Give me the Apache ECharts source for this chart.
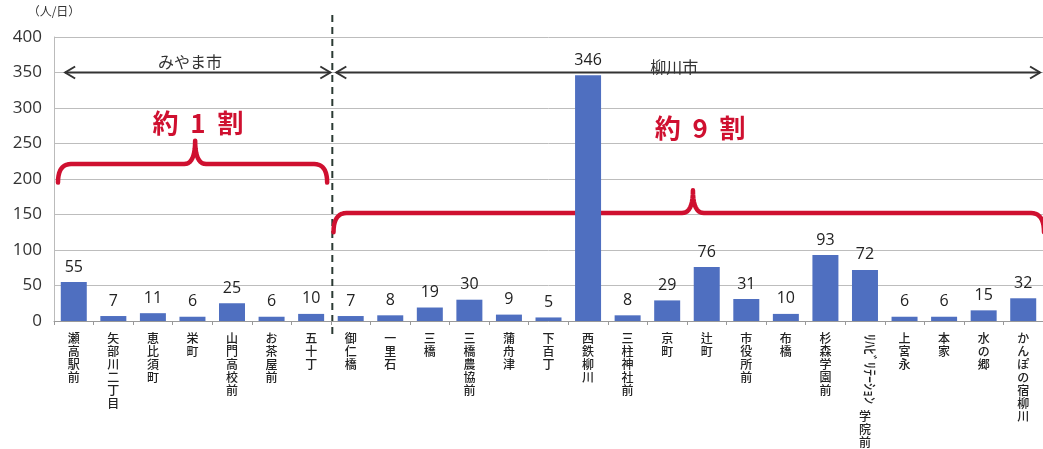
<!DOCTYPE html>
<html>
<head>
<meta charset="utf-8">
<script src="https://cdn.jsdelivr.net/npm/echarts@6/dist/echarts.min.js"></script>
<style>
  html, body { margin: 0; padding: 0; background: #fff; }
  #barChart { width: 1043px; height: 449px; }
</style>
</head>
<body>
<div id="barChart"></div>
<script>
  // 停留所（バス停）
  const categories = ['瀬高駅前', '矢部川二丁目', '恵比須町', '栄町', '山門高校前', 'お茶屋前', '五十丁',
    '御仁橋', '一里石', '三橋', '三橋農協前', '蒲舟津', '下百丁', '西鉄柳川', '三柱神社前', '京町', '辻町',
    '市役所前', '布橋', '杉森学園前', 'ﾘﾊﾋﾞﾘﾃｰｼｮﾝ学院前', '上宮永', '本家', '水の郷', 'かんぽの宿柳川']
  // 利用者数（人/日）
  const values = [55, 7, 11, 6, 25, 6, 10, 7, 8, 19, 30, 9, 5, 346, 8, 29, 76, 31, 10, 93, 72, 6, 6, 15, 32]
  const yMin = 0
  const yMax = 400
  const yStep = 50
  const miyamaCount = 7 // みやま市の停留所数（先頭から）

  const cjk = '"Noto Sans CJK JP", "Noto Sans", sans-serif'
  const gridLeft = 54
  const gridWidth = 994
  const red = '#cf1030'
  const dark = '#333'

  let chart = echarts.init(document.getElementById('barChart'))

  let option = {
    animation: false,
    grid: { left: gridLeft, width: gridWidth, top: 37, bottom: 123 },
    xAxis: {
      type: 'category',
      data: categories,
      axisLine: { lineStyle: { color: '#999' } },
      axisTick: { show: true, length: 4, lineStyle: { color: '#999' } },
      axisLabel: {
        interval: 0,
        margin: 11,
        fontFamily: cjk,
        fontSize: 12,
        fontWeight: 500,
        lineHeight: 13,
        color: '#222',
        formatter: function (v) {
          // 半角カナ部分は横倒しで別描画
          if (v.indexOf('ﾘﾊﾋﾞ') === 0) {
            return '\n\n\n\n\n\n学\n院\n前'
          }
          return v.split('').join('\n')
        }
      }
    },
    yAxis: {
      type: 'value',
      min: yMin,
      max: yMax,
      interval: yStep,
      name: '（人/日）',
      nameGap: 20,
      nameTextStyle: { fontFamily: cjk, fontSize: 12, color: dark },
      axisLine: { show: true, lineStyle: { color: '#bbb' } },
      axisTick: { show: false },
      axisLabel: { fontFamily: '"Open Sans", sans-serif', fontSize: 17, color: dark, margin: 12 },
      splitLine: { lineStyle: { color: '#bdbdbd' } }
    },
    series: [{
      type: 'bar',
      data: values,
      barWidth: 26,
      itemStyle: { color: '#4f6fc0' },
      label: {
        show: true,
        position: 'top',
        distance: 7,
        fontFamily: '"Open Sans", sans-serif',
        fontSize: 16,
        color: '#222'
      }
    }]
  }
  chart.setOption(option)

  // 注記（区切り線・矢印・中括弧）をデータ座標から配置
  const bw = gridWidth / categories.length
  function px(band, v) {
    return [gridLeft + band * bw, chart.convertToPixel({ yAxisIndex: 0 }, v)]
  }
  function quad(pts, p0, c, p1) {
    for (let i = 1; i <= 10; i++) {
      let t = i / 10
      let a = (1 - t) * (1 - t), b = 2 * t * (1 - t), d = t * t
      pts.push([a * p0[0] + b * c[0] + d * p1[0], a * p0[1] + b * c[1] + d * p1[1]])
    }
  }
  function bracePoints(b1, b2, bp, vTip, vLine, vPeak) {
    let [x1, yTip] = px(b1, vTip)
    let [x2] = px(b2, vTip)
    let [xp, yLine] = px(bp, vLine)
    let yPeak = px(bp, vPeak)[1]
    let r = 13
    let q = 11
    let pts = [[x1, yTip]]
    quad(pts, [x1, yTip], [x1, yLine], [x1 + r, yLine])
    pts.push([xp - q, yLine])
    quad(pts, [xp - q, yLine], [xp, yLine], [xp, yPeak])
    quad(pts, [xp, yPeak], [xp, yLine], [xp + q, yLine])
    pts.push([x2 - r, yLine])
    quad(pts, [x2 - r, yLine], [x2, yLine], [x2, yTip])
    return pts
  }
  function arrow(b1, b2, v) {
    let [x1, y] = px(b1, v)
    let [x2] = px(b2, v)
    let st = { stroke: dark, lineWidth: 2 }
    return [
      { type: 'line', shape: { x1: x1, y1: y, x2: x2, y2: y }, style: st },
      { type: 'polyline', shape: { points: [[x1 + 10, y - 6], [x1, y], [x1 + 10, y + 6]] }, style: st },
      { type: 'polyline', shape: { points: [[x2 - 10, y - 6], [x2, y], [x2 - 10, y + 6]] }, style: st }
    ]
  }
  function label(band, v, text, style) {
    let [x, y] = px(band, v)
    return { type: 'text', x: x, y: y, style: Object.assign({ text: text, align: 'center', verticalAlign: 'middle' }, style) }
  }

  let sepX = px(miyamaCount, 0)[0]
  let kanaIdx = categories.findIndex(c => c.indexOf('ﾘﾊﾋﾞ') === 0)
  let kanaX = px(kanaIdx + 0.5, 0)[0]
  let axisY = px(0, 0)[1]

  let braceStyle = { stroke: red, lineWidth: 4.5, lineJoin: 'round', lineCap: 'round' }
  let elements = [
    { type: 'line', shape: { x1: sepX, y1: 15, x2: sepX, y2: 335 }, style: { stroke: '#2b3a33', lineWidth: 2, lineDash: [7, 5] } }
  ]
  elements = elements.concat(arrow(0.28, 6.95, 350), arrow(7.1, 24.8, 350))
  elements.push(
    label(3.42, 365, 'みやま市', { font: '16px ' + cjk, fill: dark }),
    label(15.6, 358, '柳川市', { font: '16px ' + cjk, fill: dark }),
    { type: 'polyline', shape: { points: bracePoints(0.1, 6.87, 3.55, 195, 221, 254) }, style: braceStyle },
    { type: 'polyline', shape: { points: bracePoints(7.03, 24.9, 16.07, 125, 152, 184) }, style: braceStyle },
    label(3.62, 278, '約  1  割', { font: 'bold 26px ' + cjk, fill: red }),
    label(16.25, 271, '約  9  割', { font: 'bold 26px ' + cjk, fill: red }),
    {
      type: 'text', x: kanaX + 1, y: axisY + 13, rotation: -Math.PI / 2,
      style: { text: 'ﾘﾊﾋﾞﾘﾃｰｼｮﾝ', font: '500 14px ' + cjk, fill: '#222', align: 'left', verticalAlign: 'middle' }
    }
  )

  chart.setOption({ graphic: elements })
</script>
</body>
</html>
